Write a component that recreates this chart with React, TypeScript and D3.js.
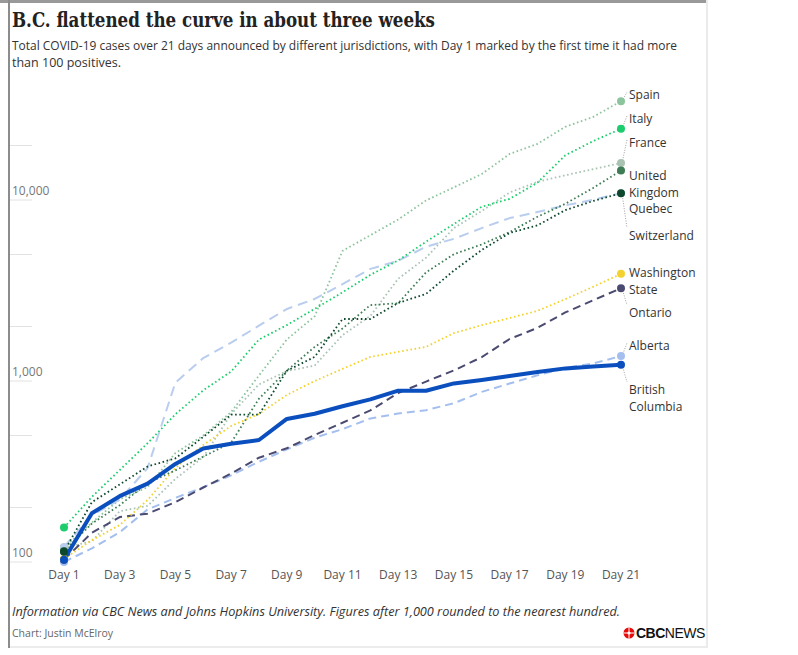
import React from "react";
import * as d3 from "d3";

const days = [1, 2, 3, 4, 5, 6, 7, 8, 9, 10, 11, 12, 13, 14, 15, 16, 17, 18, 19, 20, 21];
const tickDays = [1, 3, 5, 7, 9, 11, 13, 15, 17, 19, 21];
const yTickValues = [100, 1000, 10000];
const yTickLabels = ["100", "1,000", "10,000"];

const spain = [120, 165, 222, 259, 400, 500, 673, 1073, 1695, 2277, 5232, 6391, 7798, 9942, 11748, 13910, 17963, 20410, 25374, 28768, 35136];
const italy = [155, 229, 322, 453, 655, 888, 1128, 1694, 2036, 2502, 3089, 3858, 4636, 5883, 7375, 9172, 10149, 12462, 17660, 21157, 24747];
const france = [120, 130, 191, 204, 288, 380, 656, 957, 1134, 1217, 1792, 2289, 3672, 4800, 7000, 8700, 11000, 12600, 13700, 14800, 16018];
const unitedKingdom = [115, 163, 206, 273, 321, 382, 456, 798, 1140, 1543, 1950, 2626, 2689, 3983, 5018, 5683, 6650, 8077, 9529, 11658, 14543];
const switzerland = [114, 214, 268, 337, 374, 491, 652, 652, 1139, 1359, 2200, 2200, 2700, 3028, 4075, 5294, 6575, 7245, 8795, 9877, 10897];
const quebec = [121, 181, 221, 330, 980, 1339, 1629, 2021, 2498, 2840, 3430, 4162, 4611, 5518, 6101, 6997, 7944, 8580, 9340, 10031, 10912];
const washington = [104, 132, 160, 220, 331, 443, 564, 657, 837, 1000, 1166, 1359, 1447, 1543, 1840, 2036, 2228, 2439, 2834, 3313, 3909];
const ontario = [103, 145, 177, 185, 214, 258, 308, 377, 425, 503, 588, 688, 858, 993, 1144, 1355, 1706, 1966, 2392, 2793, 3255];
const alberta = [100, 119, 146, 195, 226, 259, 301, 358, 419, 486, 542, 621, 661, 690, 754, 871, 968, 1075, 1181, 1250, 1373];
const britishColumbia = [103, 186, 231, 271, 348, 424, 450, 472, 617, 659, 725, 792, 884, 884, 970, 1013, 1066, 1121, 1174, 1203, 1229];

type Series = { name: string; values: number[]; color: string; width: number; dash: string; cap: "round" | "butt" };

const DOT = "1.6,2.6";
const series: Series[] = [
  { name: "France", values: france, color: "#a9c3b3", width: 1.8, dash: DOT, cap: "butt" },
  { name: "Spain", values: spain, color: "#8cc49d", width: 1.8, dash: DOT, cap: "butt" },
  { name: "Quebec", values: quebec, color: "#b9cdee", width: 2, dash: "10,6", cap: "butt" },
  { name: "Alberta", values: alberta, color: "#a4bfee", width: 2, dash: "8,5", cap: "butt" },
  { name: "Ontario", values: ontario, color: "#4b4b72", width: 2, dash: "8,5", cap: "butt" },
  { name: "Washington State", values: washington, color: "#f3d230", width: 1.8, dash: DOT, cap: "butt" },
  { name: "Italy", values: italy, color: "#1dcc6c", width: 1.8, dash: DOT, cap: "butt" },
  { name: "United Kingdom", values: unitedKingdom, color: "#3d7c55", width: 1.8, dash: DOT, cap: "butt" },
  { name: "Switzerland", values: switzerland, color: "#0d472c", width: 1.8, dash: DOT, cap: "butt" },
  { name: "British Columbia", values: britishColumbia, color: "#0b4fbe", width: 4, dash: "none", cap: "round" },
];

const labels = [
  { lines: ["Spain"], y: 99, from: "Spain", leaderTo: 92 },
  { lines: ["Italy"], y: 123, from: "Italy", leaderTo: 116 },
  { lines: ["France"], y: 147, from: "France", leaderTo: 140 },
  { lines: ["United", "Kingdom"], y: 180, from: null, leaderTo: 0 },
  { lines: ["Quebec"], y: 213, from: null, leaderTo: 0 },
  { lines: ["Switzerland"], y: 240, from: "Switzerland", leaderTo: 228 },
  { lines: ["Washington", "State"], y: 277, from: null, leaderTo: 0 },
  { lines: ["Ontario"], y: 317, from: "Ontario", leaderTo: 305 },
  { lines: ["Alberta"], y: 350, from: "Alberta", leaderTo: 343 },
  { lines: ["British", "Columbia"], y: 394, from: "British Columbia", leaderTo: 382 },
];

const SANS = "'Open Sans', 'Noto Sans', sans-serif";

export default function App() {
  const x = d3.scaleLinear().domain([1, 21]).range([64, 621]);
  const y = d3.scaleLog().domain([100, 10000]).range([562, 200]);
  const line = d3
    .line<number>()
    .x((_, i) => x(days[i]))
    .y((v) => y(v));

  const byName: Record<string, Series> = {};
  series.forEach((s) => (byName[s.name] = s));

  const gridValues = [100, 200, 500, 1000, 2000, 5000, 10000, 20000];

  return (
    <svg
      width={798}
      height={655}
      style={{ position: "absolute", left: 0, top: 0, background: "#fff" }}
      fontFamily={SANS}
    >
      <rect x={0} y={0} width={798} height={655} fill="#fff" />
      {/* card borders */}
      <rect x={0} y={0} width={708} height={3} fill="#999" />
      <rect x={8} y={0} width={2} height={648} fill="#8c8c8c" />
      <rect x={706} y={0} width={2} height={648} fill="#ebebeb" />
      <rect x={10} y={646} width={698} height={2} fill="#ececec" />

      <text x={12} y={27} fontFamily="'DejaVu Serif Condensed', 'DejaVu Serif', serif" fontWeight="bold" fontSize={21} fill="#222" textLength={423} lengthAdjust="spacingAndGlyphs">
        B.C. flattened the curve in about three weeks
      </text>
      <text x={12} y={50} fontSize={12.5} fill="#333" textLength={665} lengthAdjust="spacingAndGlyphs">
        Total COVID-19 cases over 21 days announced by different jurisdictions, with Day 1 marked by the first time it had more
      </text>
      <text x={12} y={67} fontSize={12.5} fill="#333">
        than 100 positives.
      </text>

      {/* y grid stubs and labels */}
      {gridValues.map((v) => (
        <line key={"g" + v} x1={10} x2={32} y1={y(v)} y2={y(v)} stroke="#e2e2e2" strokeWidth={1} />
      ))}
      {yTickValues.map((v, i) => (
        <text key={"yt" + v} x={12} y={y(v) - 5} fontSize={12} fill="#777">
          {yTickLabels[i]}
        </text>
      ))}

      {/* x labels */}
      {tickDays.map((d) => (
        <text key={"xt" + d} x={x(d)} y={579} fontSize={12} fill="#555" textAnchor="middle">
          {"Day " + d}
        </text>
      ))}

      {/* leader lines */}
      {labels
        .filter((l) => l.from)
        .map((l) => {
          const s = byName[l.from as string];
          const yy = y(s.values[s.values.length - 1]);
          return (
            <line key={"ld" + l.lines[0]} x1={x(21) + 1} y1={yy} x2={x(21) + 6} y2={l.leaderTo} stroke="#888" strokeWidth={0.8} strokeDasharray="1,1.5" />
          );
        })}

      {/* series lines */}
      {series.map((s) => (
        <path
          key={s.name}
          d={line(s.values) || ""}
          fill="none"
          stroke={s.color}
          strokeWidth={s.width}
          strokeDasharray={s.dash}
          strokeLinecap={s.cap}
          strokeLinejoin="round"
        />
      ))}
      {/* markers */}
      {series.map((s) => (
        <g key={"m" + s.name}>
          <circle cx={x(days[0])} cy={y(s.values[0])} r={4} fill={s.color} />
          <circle cx={x(days[days.length - 1])} cy={y(s.values[s.values.length - 1])} r={4} fill={s.color} />
        </g>
      ))}

      {/* right labels */}
      {labels.map((l) => (
        <text key={"lb" + l.lines[0]} x={629} y={l.y} fontSize={12} fill="#333">
          {l.lines.map((t, i) => (
            <tspan key={t} x={629} dy={i === 0 ? 0 : 17}>
              {t}
            </tspan>
          ))}
        </text>
      ))}

      {/* footer */}
      <text x={12} y={616} fontSize={12.5} fontStyle="italic" fill="#333" textLength={608} lengthAdjust="spacingAndGlyphs">
        Information via CBC News and Johns Hopkins University. Figures after 1,000 rounded to the nearest hundred.
      </text>
      <text x={12} y={637} fontSize={10.5} fill="#666">
        Chart: Justin McElroy
      </text>

      {/* CBC News logo */}
      <g transform="translate(629,633)">
        <circle r={5.5} fill="#e60a0a" />
        <line x1={-5.5} x2={5.5} y1={0} y2={0} stroke="#fff" strokeWidth={1} />
        <line y1={-5.5} y2={5.5} x1={0} x2={0} stroke="#fff" strokeWidth={1} />
        <circle r={1.6} fill="#fff" />
      </g>
      <text x={636} y={638} fontFamily="'Liberation Sans', Arial, sans-serif" fontSize={14} fill="#111" letterSpacing={-0.5}>
        <tspan fontWeight="bold">CBC</tspan>
        <tspan>NEWS</tspan>
      </text>
    </svg>
  );
}
